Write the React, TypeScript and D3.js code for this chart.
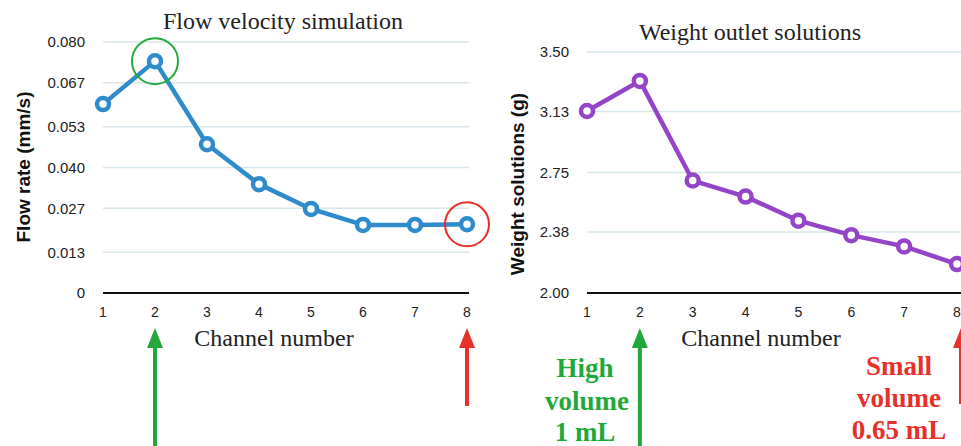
import React from 'react';
import { scaleLinear, line } from 'd3';

// channels 1..8
const channels = [1, 2, 3, 4, 5, 6, 7, 8];
// flow rate, mm/s
const flowRate = [0.0602, 0.0739, 0.0474, 0.0347, 0.0268, 0.0217, 0.0217, 0.0219];
// weight of outlet solutions, g
const weight = [3.133, 3.32, 2.7, 2.6, 2.45, 2.36, 2.29, 2.18];

const flowTicks = [0, 0.013, 0.027, 0.04, 0.053, 0.067, 0.08];
const flowTickLabels = ['0', '0.013', '0.027', '0.040', '0.053', '0.067', '0.080'];
const weightTicks = [2.0, 2.38, 2.75, 3.13, 3.5];
const weightTickLabels = ['2.00', '2.38', '2.75', '3.13', '3.50'];

const SANS = '"Liberation Sans", Arial, sans-serif';
const SERIF = '"Liberation Serif", "Times New Roman", serif';
const GREEN = '#22a83a';
const RED = '#e8302a';

type PanelProps = {
  values: number[];
  ticks: number[];
  tickLabels: string[];
  domain: [number, number];
  x0: number;
  x1: number;
  yTop: number;
  yBottom: number;
  gridEnd: number;
  color: string;
  title: string;
  titleX: number;
  titleY: number;
  yLabel: string;
  yLabelX: number;
  yLabelY: number;
};

const Panel = (p: PanelProps) => {
  const x = scaleLinear().domain([1, 8]).range([p.x0, p.x1]);
  const y = scaleLinear().domain(p.domain).range([p.yBottom, p.yTop]);
  const path = line<number>()
    .x((_, i) => x(channels[i]))
    .y((d) => y(d))(p.values);

  return (
    <g>
      <text x={p.titleX} y={p.titleY} textAnchor="middle" fontFamily={SERIF} fontSize={24} fill="#222">
        {p.title}
      </text>
      {/* grid */}
      {p.ticks.map((t, i) => (
        <g key={i}>
          {i > 0 && (
            <line x1={p.x0} x2={p.gridEnd} y1={y(t)} y2={y(t)} stroke="#d6e6ea" strokeWidth={1.5} />
          )}
          <text
            x={p.x0 - 18}
            y={y(t)}
            dy="0.36em"
            textAnchor="end"
            fontFamily={SANS}
            fontSize={15}
            fill="#222"
          >
            {p.tickLabels[i]}
          </text>
        </g>
      ))}
      <line x1={p.x0} x2={p.gridEnd} y1={p.yBottom} y2={p.yBottom} stroke="#111" strokeWidth={2} />
      {channels.map((c) => (
        <text key={c} x={x(c)} y={p.yBottom + 24} textAnchor="middle" fontFamily={SANS} fontSize={14} fill="#222">
          {c}
        </text>
      ))}
      <text
        transform={`translate(${p.yLabelX},${p.yLabelY}) rotate(-90)`}
        textAnchor="middle"
        fontFamily={SANS}
        fontWeight="bold"
        fontSize={19}
        fill="#111"
      >
        {p.yLabel}
      </text>
      <text x={(p.x0 + p.x1) / 2 - 11} y={346} textAnchor="middle" fontFamily={SERIF} fontSize={24} fill="#222">
        Channel number
      </text>
      <path d={path || ''} fill="none" stroke={p.color} strokeWidth={4.5} strokeLinejoin="round" />
      {p.values.map((v, i) => (
        <circle key={i} cx={x(channels[i])} cy={y(v)} r={6} fill="#fff" stroke={p.color} strokeWidth={4.5} />
      ))}
    </g>
  );
};

const Arrow = ({ x, y1, y2, color }: { x: number; y1: number; y2: number; color: string }) => (
  <g>
    <line x1={x} x2={x} y1={y1 + 14} y2={y2} stroke={color} strokeWidth={4} />
    <polygon points={`${x},${y1} ${x - 8},${y1 + 20} ${x + 8},${y1 + 20}`} fill={color} />
  </g>
);

export default function App() {
  const xL = scaleLinear().domain([1, 8]).range([103, 467]);
  const yL = scaleLinear().domain([0, 0.08]).range([293, 42]);
  const xR = scaleLinear().domain([1, 8]).range([587, 957]);

  return (
    <svg width={961} height={446} style={{ position: 'absolute', left: 0, top: 0, background: '#fff' }}>
      <Panel
        values={flowRate}
        ticks={flowTicks}
        tickLabels={flowTickLabels}
        domain={[0, 0.08]}
        x0={103}
        x1={467}
        yTop={42}
        yBottom={293}
        gridEnd={469}
        color="#2e8bcc"
        title="Flow velocity simulation"
        titleX={283}
        titleY={29}
        yLabel="Flow rate (mm/s)"
        yLabelX={30}
        yLabelY={167}
      />
      <Panel
        values={weight}
        ticks={weightTicks}
        tickLabels={weightTickLabels}
        domain={[2, 3.5]}
        x0={587}
        x1={957}
        yTop={52}
        yBottom={293}
        gridEnd={961}
        color="#9444c8"
        title="Weight outlet solutions"
        titleX={750}
        titleY={40}
        yLabel="Weight solutions (g)"
        yLabelX={524}
        yLabelY={184}
      />
      {/* highlight circles */}
      <circle cx={xL(2)} cy={yL(flowRate[1])} r={23} fill="none" stroke={GREEN} strokeWidth={2} />
      <circle cx={xL(8)} cy={yL(flowRate[7])} r={22} fill="none" stroke={RED} strokeWidth={2} />
      {/* arrows */}
      <Arrow x={xL(2)} y1={328} y2={446} color={GREEN} />
      <Arrow x={xL(8)} y1={328} y2={406} color={RED} />
      <Arrow x={xR(2)} y1={328} y2={446} color={GREEN} />
      <Arrow x={xR(8) + 4} y1={328} y2={404} color={RED} />
      <g fontFamily={SERIF} fontWeight="bold" fontSize={27} textAnchor="middle" fill={GREEN}>
        <text x={585} y={377}>High</text>
        <text x={587} y={410}>volume</text>
        <text x={585} y={441}>1 mL</text>
      </g>
      <g fontFamily={SERIF} fontWeight="bold" fontSize={27} textAnchor="middle" fill={RED}>
        <text x={899} y={375}>Small</text>
        <text x={899} y={407}>volume</text>
        <text x={899} y={439}>0.65 mL</text>
      </g>
    </svg>
  );
}
